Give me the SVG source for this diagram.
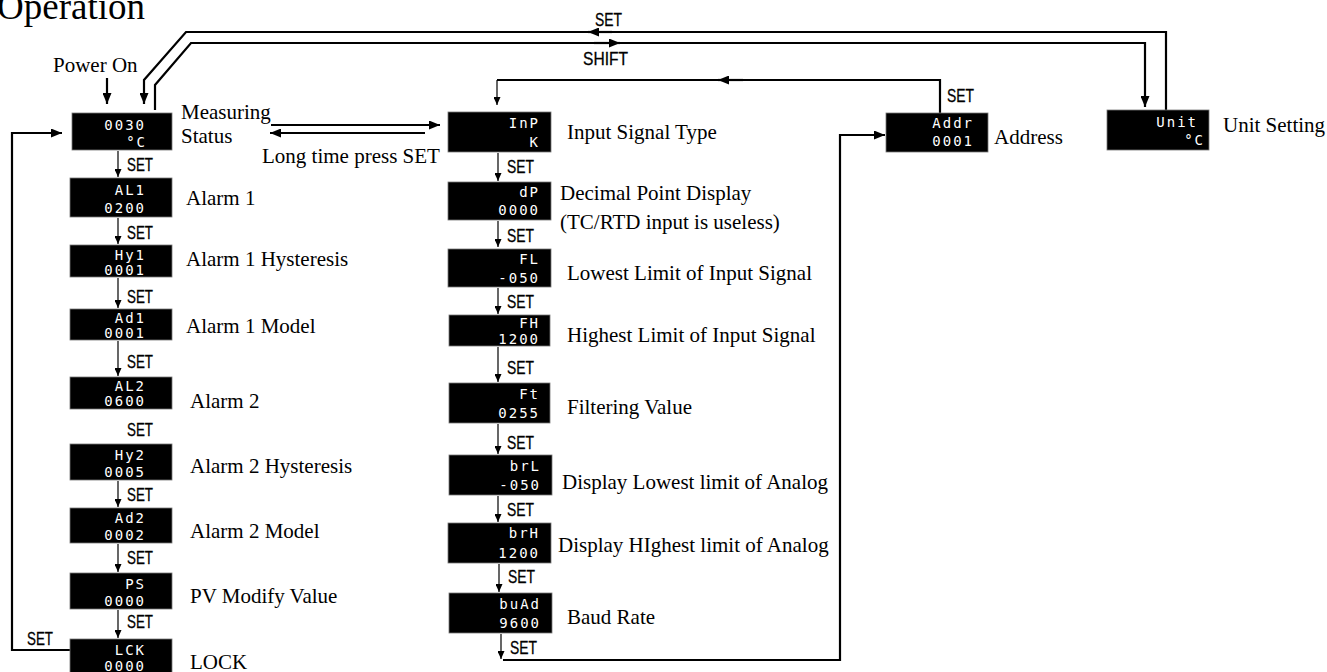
<svg xmlns="http://www.w3.org/2000/svg" width="1327" height="672" viewBox="0 0 1327 672">
<style>
.lbl{font-family:"Liberation Serif","Times New Roman",serif;font-size:21px;fill:#000}
.key{font-family:"Liberation Sans",Arial,sans-serif;font-size:17.5px;fill:#000;stroke:#000;stroke-width:0.3}
.box{fill:#000;stroke:#777;stroke-width:0.8}
.lcd{font-family:"DejaVu Sans Mono",monospace;font-size:14px;fill:#fff;text-anchor:end;letter-spacing:2px}
.thick{fill:none;stroke:#000;stroke-width:2.2}
.thin{fill:none;stroke:#000;stroke-width:1.2}
</style>
<defs>
<marker id="big" markerUnits="userSpaceOnUse" markerWidth="11" markerHeight="9" refX="11" refY="4.5" orient="auto"><path d="M0,0 L11,4.5 L0,9 z" fill="#000"/></marker>
<marker id="small" markerUnits="userSpaceOnUse" markerWidth="8" markerHeight="7" refX="8" refY="3.5" orient="auto"><path d="M0,0 L8,3.5 L0,7 z" fill="#000"/></marker>
</defs>
<rect width="1327" height="672" fill="#fff"/>
<text class="lbl" x="-3" y="19" style="font-size:37px">Operation</text>
<text class="lbl" x="53" y="72">Power On</text>

<g id="connectors">
<path class="thick" d="M107,78 L107,104" marker-end="url(#big)"/>
<path class="thick" d="M1166,110 L1166,32 L186,32 L144,80 L144,104" marker-end="url(#big)"/>
<path class="thick" d="M612,32 L588,32" marker-end="url(#big)"/>
<path class="thick" d="M155,110 L155,85 L191,43 L1145,43 L1145,107" marker-end="url(#big)"/>
<path class="thick" d="M594,43 L620,43" marker-end="url(#big)"/>
<text class="key" x="595" y="26" textLength="27" lengthAdjust="spacingAndGlyphs">SET</text>
<text class="key" x="583" y="65" textLength="45" lengthAdjust="spacingAndGlyphs">SHIFT</text>
<path class="thick" d="M271,125 L440,125" marker-end="url(#big)"/>
<path class="thick" d="M425,133 L270,133" marker-end="url(#big)"/>
<text class="lbl" x="262" y="163">Long time press SET</text>
<path class="thick" d="M70,650 L12,650 L12,133 L62,133" marker-end="url(#big)"/>
<text class="key" x="27" y="645" textLength="26" lengthAdjust="spacingAndGlyphs">SET</text>
<path class="thick" d="M940,113 L940,80 L497,80"/>
<path class="thin" d="M497,80 L497,105" marker-end="url(#small)"/>
<path class="thick" d="M743,80 L718,80" marker-end="url(#big)"/>
<text class="key" x="947" y="102" textLength="27" lengthAdjust="spacingAndGlyphs">SET</text>
<path class="thick" d="M503,660 L840,660 L840,135 L885,135" marker-end="url(#big)"/>
<!-- left column step arrows -->
<path class="thin" d="M118,151 L118,177" marker-end="url(#small)"/>
<text class="key" x="127" y="171" textLength="26" lengthAdjust="spacingAndGlyphs">SET</text>
<path class="thin" d="M118,218 L118,244" marker-end="url(#small)"/>
<text class="key" x="127" y="239" textLength="26" lengthAdjust="spacingAndGlyphs">SET</text>
<path class="thin" d="M118,278 L118,308" marker-end="url(#small)"/>
<text class="key" x="127" y="303" textLength="26" lengthAdjust="spacingAndGlyphs">SET</text>
<path class="thin" d="M118,341 L118,376" marker-end="url(#small)"/>
<text class="key" x="127" y="368" textLength="26" lengthAdjust="spacingAndGlyphs">SET</text>
<text class="key" x="127" y="436" textLength="26" lengthAdjust="spacingAndGlyphs">SET</text>
<path class="thin" d="M118,481 L118,507" marker-end="url(#small)"/>
<text class="key" x="127" y="501" textLength="26" lengthAdjust="spacingAndGlyphs">SET</text>
<path class="thin" d="M118,544 L118,572" marker-end="url(#small)"/>
<text class="key" x="127" y="564" textLength="26" lengthAdjust="spacingAndGlyphs">SET</text>
<path class="thin" d="M118,610 L118,638" marker-end="url(#small)"/>
<text class="key" x="127" y="628" textLength="26" lengthAdjust="spacingAndGlyphs">SET</text>
<!-- middle column step arrows -->
<path class="thin" d="M498,153 L498,181" marker-end="url(#small)"/>
<text class="key" x="507" y="173" textLength="27" lengthAdjust="spacingAndGlyphs">SET</text>
<path class="thin" d="M498,221 L498,247" marker-end="url(#small)"/>
<text class="key" x="507" y="242" textLength="27" lengthAdjust="spacingAndGlyphs">SET</text>
<path class="thin" d="M498,288 L498,314" marker-end="url(#small)"/>
<text class="key" x="507" y="308" textLength="27" lengthAdjust="spacingAndGlyphs">SET</text>
<path class="thin" d="M498,347 L498,382" marker-end="url(#small)"/>
<text class="key" x="507" y="374" textLength="27" lengthAdjust="spacingAndGlyphs">SET</text>
<path class="thin" d="M498,424 L498,454" marker-end="url(#small)"/>
<text class="key" x="507" y="449" textLength="27" lengthAdjust="spacingAndGlyphs">SET</text>
<path class="thin" d="M498,496 L498,522" marker-end="url(#small)"/>
<text class="key" x="507" y="516" textLength="27" lengthAdjust="spacingAndGlyphs">SET</text>
<path class="thin" d="M499,564 L499,592" marker-end="url(#small)"/>
<text class="key" x="508" y="583" textLength="27" lengthAdjust="spacingAndGlyphs">SET</text>
<path class="thin" d="M501,634 L501,659" marker-end="url(#small)"/>
<text class="key" x="510" y="654" textLength="27" lengthAdjust="spacingAndGlyphs">SET</text>
</g>

<g id="measuring"><rect class="box" x="72" y="113" width="100" height="37"/><text class="lcd" x="146" y="130">0030</text><text class="lcd" x="147" y="147">°C</text><text class="lbl" x="181" y="119">Measuring</text><text class="lbl" x="181" y="143">Status</text></g>
<g id="al1"><rect class="box" x="70" y="178" width="102" height="39"/><text class="lcd" x="146" y="195">AL1</text><text class="lcd" x="146" y="213">0200</text><text class="lbl" x="186" y="205">Alarm 1</text></g>
<g id="hy1"><rect class="box" x="70" y="245" width="102" height="32"/><text class="lcd" x="146" y="260">Hy1</text><text class="lcd" x="146" y="275">0001</text><text class="lbl" x="186" y="266">Alarm 1 Hysteresis</text></g>
<g id="ad1"><rect class="box" x="70" y="309" width="102" height="31"/><text class="lcd" x="146" y="323">Ad1</text><text class="lcd" x="146" y="338">0001</text><text class="lbl" x="186" y="333">Alarm 1 Model</text></g>
<g id="al2"><rect class="box" x="70" y="377" width="102" height="32"/><text class="lcd" x="146" y="391">AL2</text><text class="lcd" x="146" y="406">0600</text><text class="lbl" x="190" y="408">Alarm 2</text></g>
<g id="hy2"><rect class="box" x="70" y="444" width="102" height="36"/><text class="lcd" x="146" y="460">Hy2</text><text class="lcd" x="146" y="477">0005</text><text class="lbl" x="190" y="473">Alarm 2 Hysteresis</text></g>
<g id="ad2"><rect class="box" x="70" y="508" width="102" height="35"/><text class="lcd" x="146" y="523">Ad2</text><text class="lcd" x="146" y="540">0002</text><text class="lbl" x="190" y="538">Alarm 2 Model</text></g>
<g id="ps"><rect class="box" x="70" y="573" width="102" height="36"/><text class="lcd" x="146" y="589">PS</text><text class="lcd" x="146" y="606">0000</text><text class="lbl" x="190" y="603">PV Modify Value</text></g>
<g id="lck"><rect class="box" x="70" y="639" width="102" height="36"/><text class="lcd" x="146" y="655">LCK</text><text class="lcd" x="146" y="671">0000</text><text class="lbl" x="190" y="669">LOCK</text></g>

<g id="inp"><rect class="box" x="448" y="112" width="103" height="40"/><text class="lcd" x="540" y="128">InP</text><text class="lcd" x="540" y="147">K</text><text class="lbl" x="567" y="139">Input Signal Type</text></g>
<g id="dp"><rect class="box" x="448" y="182" width="103" height="38"/><text class="lcd" x="540" y="197">dP</text><text class="lcd" x="540" y="215">0000</text><text class="lbl" x="560" y="200">Decimal Point Display</text><text class="lbl" x="560" y="229">(TC/RTD input is useless)</text></g>
<g id="fl"><rect class="box" x="448" y="249" width="103" height="38"/><text class="lcd" x="540" y="264">FL</text><text class="lcd" x="540" y="283">-050</text><text class="lbl" x="567" y="280">Lowest Limit of Input Signal</text></g>
<g id="fh"><rect class="box" x="449" y="315" width="101" height="31"/><text class="lcd" x="540" y="328">FH</text><text class="lcd" x="540" y="344">1200</text><text class="lbl" x="567" y="342">Highest Limit of Input Signal</text></g>
<g id="ft"><rect class="box" x="449" y="383" width="101" height="40"/><text class="lcd" x="540" y="399">Ft</text><text class="lcd" x="540" y="418">0255</text><text class="lbl" x="567" y="414">Filtering Value</text></g>
<g id="brl"><rect class="box" x="449" y="455" width="103" height="40"/><text class="lcd" x="541" y="471">brL</text><text class="lcd" x="541" y="490">-050</text><text class="lbl" x="562" y="489">Display Lowest limit of Analog</text></g>
<g id="brh"><rect class="box" x="448" y="523" width="103" height="40"/><text class="lcd" x="540" y="538">brH</text><text class="lcd" x="540" y="558">1200</text><text class="lbl" x="558" y="552">Display HIghest limit of Analog</text></g>
<g id="buad"><rect class="box" x="449" y="593" width="103" height="40"/><text class="lcd" x="541" y="609">buAd</text><text class="lcd" x="541" y="628">9600</text><text class="lbl" x="567" y="624">Baud Rate</text></g>

<g id="addr"><rect class="box" x="886" y="113" width="102" height="39"/><text class="lcd" x="974" y="128">Addr</text><text class="lcd" x="974" y="146">0001</text><text class="lbl" x="994" y="144">Address</text></g>
<g id="unit"><rect class="box" x="1107" y="110" width="102" height="40"/><text class="lcd" x="1198" y="127">Unit</text><text class="lcd" x="1205" y="145">°C</text><text class="lbl" x="1223" y="132">Unit Setting</text></g>
</svg>
